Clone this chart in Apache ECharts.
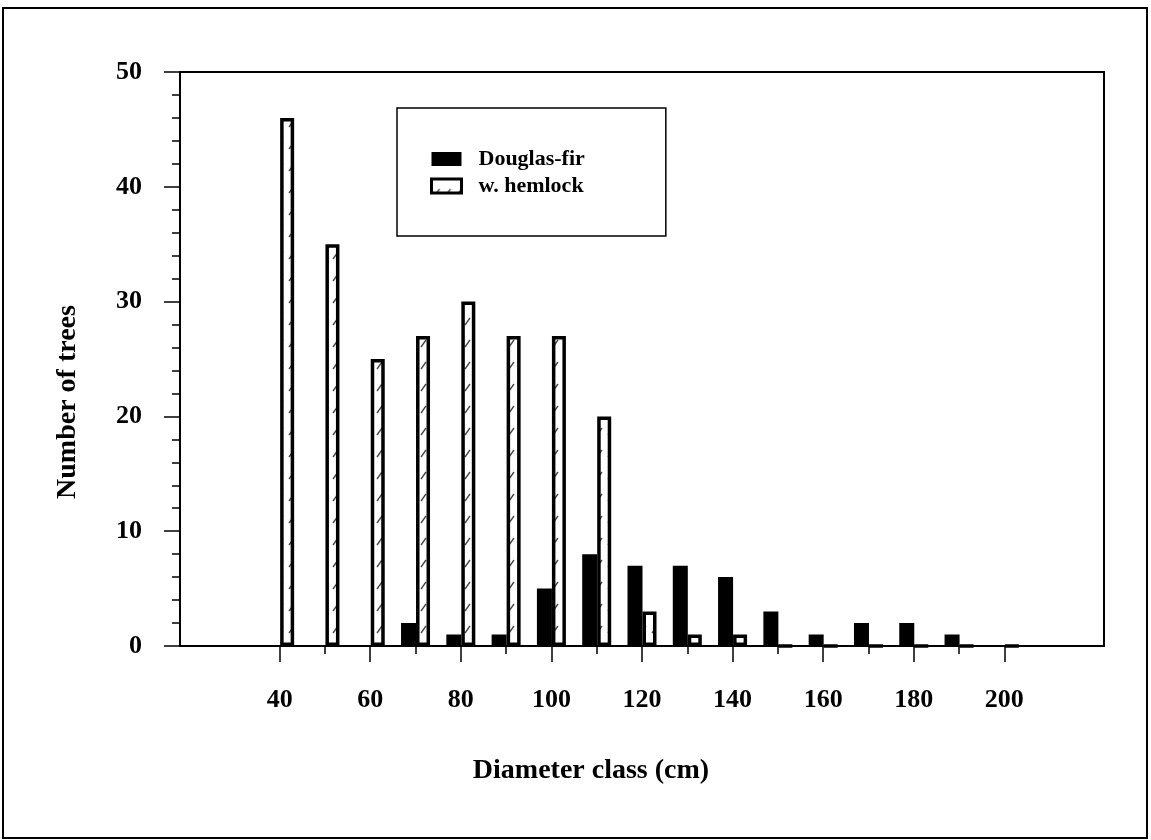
<!DOCTYPE html>
<html>
<head>
<meta charset="utf-8">
<script src="https://cdn.jsdelivr.net/npm/echarts@6/dist/echarts.min.js"></script>
<style>html,body{margin:0;padding:0;background:#fff;}#chart{width:1151px;height:840px;}</style>
</head>
<body>
<div id="chart"></div>
<script>
// ---- data ----
const diameterClasses = [40, 50, 60, 70, 80, 90, 100, 110, 120, 130, 140, 150, 160, 170, 180, 190, 200];
const douglasFir = [0, 0, 0, 2, 1, 1, 5, 8, 7, 7, 6, 3, 1, 2, 2, 1, 0];
const westernHemlock = [46, 35, 25, 27, 30, 27, 27, 20, 3, 1, 1, 0, 0, 0, 0, 0, 0];
const xLabelValues = [40, 60, 80, 100, 120, 140, 160, 180, 200];
const xMinorTickValues = [50, 70, 90, 110, 130, 150, 170, 190];
const seriesNames = ['Douglas-fir', 'w. hemlock'];
const xTitle = 'Diameter class (cm)';
const yTitle = 'Number of trees';

const FONT = '"Liberation Serif", "Times New Roman", serif';

// hatch pattern for the hemlock bars
const pat = document.createElement('canvas');
pat.width = 11; pat.height = 22;
const pc = pat.getContext('2d');
pc.fillStyle = '#fff'; pc.fillRect(0, 0, 11, 22);
pc.strokeStyle = '#444'; pc.lineWidth = 1.3;
pc.beginPath(); pc.moveTo(3, 17); pc.lineTo(8, 10); pc.stroke();

const chart = echarts.init(document.getElementById('chart'), null, {renderer: 'canvas'});
const xMin = 18, xMax = 222;

const option = {
  backgroundColor: '#fff',
  animation: false,
  grid: {left: 180, right: 47, top: 72, bottom: 194, show: true, borderColor: '#000', borderWidth: 2, backgroundColor: 'transparent'},
  legend: {
    orient: 'vertical',
    left: 397, top: 108,
    padding: [40, 81, 39, 33],
    itemWidth: 30, itemHeight: 14, itemGap: 5,
    borderColor: '#000', borderWidth: 1.5,
    textStyle: {fontFamily: FONT, fontWeight: 'bold', fontSize: 22, color: '#000', padding: [0, 0, 0, 12]},
    data: [
      {name: seriesNames[0], icon: 'rect', itemStyle: {borderWidth: 0}},
      {name: seriesNames[1], icon: 'rect', itemStyle: {borderWidth: 3}}
    ]
  },
  xAxis: [{
    type: 'value', min: xMin, max: xMax,
    axisLine: {show: true, onZero: false, lineStyle: {color: '#000', width: 2}},
    axisTick: {show: true, length: 16, customValues: xLabelValues, lineStyle: {color: '#000', width: 1.5}},
    axisLabel: {show: true, customValues: xLabelValues, margin: 41, fontFamily: FONT, fontWeight: 'bold', fontSize: 26, color: '#000'},
    splitLine: {show: false}
  }, {
    type: 'value', min: xMin, max: xMax, position: 'bottom',
    axisLine: {show: false},
    axisTick: {show: true, length: 8, customValues: xMinorTickValues, lineStyle: {color: '#000', width: 1.5}},
    axisLabel: {show: false},
    splitLine: {show: false}
  }],
  yAxis: {
    type: 'value', min: 0, max: 50, interval: 10,
    axisLine: {show: true, lineStyle: {color: '#000', width: 2}},
    axisTick: {show: true, length: 16, lineStyle: {color: '#000', width: 1.5}},
    minorTick: {show: true, splitNumber: 5, length: 8, lineStyle: {color: '#000', width: 1.5}},
    axisLabel: {margin: 38, fontFamily: FONT, fontWeight: 'bold', fontSize: 26, color: '#000'},
    splitLine: {show: false}
  },
  series: [{
    name: seriesNames[0], type: 'bar', xAxisIndex: 0,
    barWidth: 15, barGap: '0%',
    itemStyle: {color: '#000', borderColor: '#000', borderWidth: 1.5},
    data: diameterClasses.map((d, i) => [d, douglasFir[i]])
  }, {
    name: seriesNames[1], type: 'bar', xAxisIndex: 0,
    barWidth: 14, barGap: '0%',
    itemStyle: {color: {image: pat, repeat: 'repeat'}, borderColor: '#000', borderWidth: 3.5},
    data: diameterClasses.map((d, i) => [d, westernHemlock[i]])
  }],
  graphic: [
    {type: 'rect', shape: {x: 3, y: 8, width: 1144, height: 830}, style: {fill: null, stroke: '#000', lineWidth: 2}, silent: true, z: -1},
    {type: 'text', x: 591, y: 771, style: {text: xTitle, font: 'bold 28px ' + FONT, fill: '#000', align: 'center', verticalAlign: 'middle'}},
    {type: 'text', x: 68, y: 402, rotation: Math.PI / 2, style: {text: yTitle, font: 'bold 28px ' + FONT, fill: '#000', align: 'center', verticalAlign: 'middle'}}
  ]
};
chart.setOption(option);
</script>
</body>
</html>
